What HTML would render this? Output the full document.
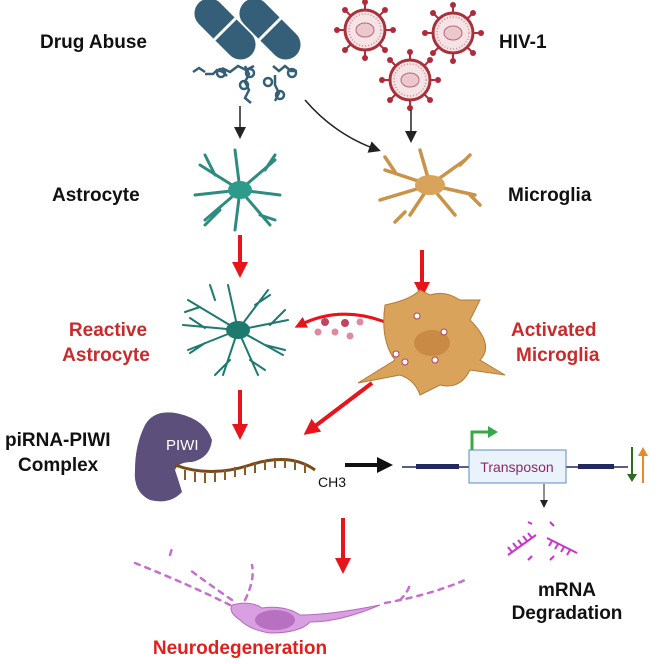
<!DOCTYPE html>
<html><head><meta charset="utf-8"><style>
body{margin:0;background:#fff}
svg{display:block}
text{font-family:"Liberation Sans",sans-serif}
.b{font-weight:bold;font-size:19px;fill:#111}
.r{font-weight:bold;font-size:19px;fill:#c62d2a}
</style></head><body>
<svg width="664" height="664" viewBox="0 0 664 664">
<defs>
<marker id="ak" markerWidth="8" markerHeight="8" refX="6" refY="4" orient="auto"><path d="M0,0L8,4L0,8z" fill="#222"/></marker>
<marker id="ar" markerWidth="4" markerHeight="4" refX="2" refY="2" orient="auto"><path d="M0,0L4,2L0,4z" fill="#e8141b"/></marker>
<marker id="ab" markerWidth="4" markerHeight="4" refX="2" refY="2" orient="auto"><path d="M0,0L4,2L0,4z" fill="#111"/></marker>
<g id="vir">
<g stroke="#b02a3a" stroke-width="2"><path d="M0,-20v-7M0,20v7M-20,0h-7M20,0h7M14,14l5,5M-14,14l-5,5M14,-14l5,-5M-14,-14l-5,-5"/></g>
<g fill="#b02a3a"><circle cx="0" cy="-28" r="3"/><circle cx="0" cy="28" r="3"/><circle cx="-28" cy="0" r="3"/><circle cx="28" cy="0" r="3"/><circle cx="20" cy="20" r="3"/><circle cx="-20" cy="20" r="3"/><circle cx="20" cy="-20" r="3"/><circle cx="-20" cy="-20" r="3"/></g>
<circle r="20" fill="#f6e3e3" stroke="#a8323c" stroke-width="3"/>
<circle r="16" fill="none" stroke="#c98aa8" stroke-width="1.5" stroke-dasharray="1 2"/>
<ellipse rx="9" ry="7" fill="#ecc8cc" stroke="#b06a80"/>
</g>
</defs>
<text class="b" x="40" y="48">Drug Abuse</text>
<text class="b" x="499" y="48">HIV-1</text>
<text class="b" x="52" y="201">Astrocyte</text>
<text class="b" x="508" y="201">Microglia</text>
<text class="r" x="108" y="336" text-anchor="middle">Reactive</text>
<text class="r" x="106" y="361" text-anchor="middle">Astrocyte</text>
<text class="r" x="511" y="336">Activated</text>
<text class="r" x="516" y="361">Microglia</text>
<text class="b" x="5" y="446">piRNA-PIWI</text>
<text class="b" x="18" y="471">Complex</text>
<text class="r" x="240" y="654" text-anchor="middle" style="fill:#e0201c">Neurodegeneration</text>
<text class="b" x="567" y="596" text-anchor="middle">mRNA</text>
<text class="b" x="567" y="619" text-anchor="middle">Degradation</text>
<!-- pills -->
<g fill="#355e78">
<rect x="188" y="14" width="74" height="30" rx="15" transform="rotate(45 225 29)"/>
<rect x="233" y="14" width="74" height="30" rx="15" transform="rotate(45 270 29)"/></g>
<g stroke="#fff" stroke-width="3"><path d="M213,41l24,-24M258,41l24,-24"/></g>
<g stroke="#355e78" stroke-width="2.5" fill="none">
<path d="M193,72l6,-4l6,4M205,74h8l4,-4l6,2l4,4M222,68l8,4l8,-6l8,4l8,-4M245,66l4,8l-4,8l4,8l-4,8l6,5M273,66l6,5l6,-5l6,5M275,75v10l4,8l-4,8M290,71h7"/>
<circle cx="221" cy="73" r="4"/><circle cx="244" cy="85" r="4"/><circle cx="250" cy="73" r="4"/><circle cx="268" cy="82" r="4"/><circle cx="280" cy="95" r="4"/><circle cx="292" cy="73" r="4"/></g>
<!-- viruses -->
<use href="#vir" x="365" y="30"/><use href="#vir" x="453" y="33"/><use href="#vir" x="410" y="80"/>
<!-- black arrows -->
<line x1="240" y1="106" x2="240" y2="136" stroke="#222" stroke-width="1.5" marker-end="url(#ak)"/>
<path d="M305,100Q335,135 378,150" stroke="#222" stroke-width="1.5" fill="none" marker-end="url(#ak)"/>
<line x1="411" y1="110" x2="411" y2="140" stroke="#222" stroke-width="1.5" marker-end="url(#ak)"/>
<!-- astrocyte -->
<g stroke="#2e8b80" stroke-width="3" fill="none" stroke-linecap="round">
<path d="M240,190l-40,-25M240,190l-5,-40M240,190l35,-30M240,190l40,5M240,190l30,35M240,190l-5,40M240,190l-35,30M240,190l-45,5M215,175l-10,-20M265,170l10,-15M260,215l15,5M220,210l-15,15"/></g>
<ellipse cx="240" cy="190" rx="12" ry="9" fill="#2e9b8a"/>
<!-- microglia -->
<g stroke="#c9934a" stroke-width="3.5" fill="none" stroke-linecap="round">
<path d="M430,185l-45,-15M430,185l-10,-35M430,185l35,-25M430,185l45,10M430,185l25,30M430,185l-20,30M430,185l-50,15M395,172l-10,-15M460,165l10,-10M470,195l10,10M405,212l-10,10"/></g>
<ellipse cx="430" cy="185" rx="15" ry="10" fill="#d9a35c"/>
<!-- red arrows -->
<g stroke="#e8141b" stroke-width="4" fill="none">
<line x1="240" y1="235" x2="240" y2="270" marker-end="url(#ar)"/>
<line x1="422" y1="250" x2="422" y2="290" marker-end="url(#ar)"/>
<line x1="240" y1="390" x2="240" y2="432" marker-end="url(#ar)"/>
<line x1="372" y1="383" x2="310" y2="430" marker-end="url(#ar)"/>
<line x1="343" y1="518" x2="343" y2="566" marker-end="url(#ar)"/>
<path d="M385,322Q340,305 300,325" stroke-width="3" marker-end="url(#ar)"/>
</g>
<g fill="#c0455f"><circle cx="345" cy="323" r="4"/><circle cx="335" cy="332" r="3.5" fill="#e08aa0"/><circle cx="350" cy="336" r="3.5" fill="#e08aa0"/><circle cx="325" cy="322" r="4"/><circle cx="318" cy="332" r="3.5" fill="#e08aa0"/><circle cx="360" cy="322" r="3.5" fill="#e08aa0"/></g>
<!-- reactive astrocyte -->
<g stroke="#1e7a6e" stroke-width="2" fill="none" stroke-linecap="round">
<path d="M238,330l-50,-30M238,330l-10,-45M238,330l30,-40M238,330l50,-10M238,330l45,25M238,330l20,45M238,330l-15,45M238,330l-50,20M238,330l-55,-5M200,307l-15,5M215,300l-5,-15M255,305l15,-10M270,325l15,-15M265,345l20,5M250,360l15,10M230,360l-15,15M205,343l-15,10M205,328l-15,-10"/></g>
<ellipse cx="238" cy="330" rx="12" ry="9" fill="#1e7a6e"/>
<!-- activated microglia -->
<path d="M385,305Q410,300 420,290L430,295Q445,290 460,300L480,300L470,320Q495,345 480,360L505,375L470,370Q460,390 440,385L420,395Q415,380 400,375L358,383L395,360Q380,340 385,305z" fill="#d9a35c" stroke="#b47a38" stroke-width="1"/>
<ellipse cx="432" cy="343" rx="18" ry="13" fill="#c98a45"/>
<g fill="#fff" stroke="#b04060" stroke-width="1"><circle cx="417" cy="316" r="3"/><circle cx="444" cy="332" r="3"/><circle cx="396" cy="354" r="3"/><circle cx="405" cy="362" r="3"/><circle cx="435" cy="360" r="3"/></g>
<!-- PIWI -->
<path d="M145,425Q155,408 180,414Q205,420 212,440Q210,458 192,462Q178,462 175,470Q180,485 182,492Q170,505 150,500Q133,492 135,470Q135,445 145,425z" fill="#5c4f7c"/>
<text x="166" y="450" font-size="15" fill="#fff">PIWI</text>
<path d="M175,465Q210,478 250,465T315,470" stroke="#7a4a1a" stroke-width="3" fill="none"/>
<g stroke="#8b5a2b" stroke-width="2"><path d="M185,470v10M195,472v10M205,473v10M215,472v10M225,470v10M235,467v10M245,465v10M255,463v10M265,460v10M275,458v10M285,458v10M295,460v10M305,463v10"/></g>
<text x="318" y="487" font-size="14" fill="#111">CH3</text>
<line x1="345" y1="465" x2="385" y2="465" stroke="#111" stroke-width="4" marker-end="url(#ab)"/>
<!-- transposon -->
<line x1="402" y1="467" x2="628" y2="467" stroke="#222860" stroke-width="1.5"/>
<rect x="416" y="464" width="43" height="5" fill="#222860"/><rect x="578" y="464" width="36" height="5" fill="#222860"/>
<rect x="469" y="450" width="97" height="33" fill="#eaf2fb" stroke="#5b8cc8" stroke-width="1"/>
<text x="517" y="472" font-size="14" fill="#8a2a6a" text-anchor="middle">Transposon</text>
<path d="M472,450v-18h18" stroke="#3aa84a" stroke-width="3" fill="none"/><path d="M488,426l10,6l-10,6z" fill="#3aa84a"/>
<line x1="632" y1="447" x2="632" y2="478" stroke="#2e6b1e" stroke-width="2"/><path d="M627,474h10l-5,8z" fill="#2e6b1e"/>
<line x1="643" y1="483" x2="643" y2="452" stroke="#e88a2a" stroke-width="2"/><path d="M638,456h10l-5,-9z" fill="#e88a2a"/>
<line x1="544" y1="484" x2="544" y2="506" stroke="#222" stroke-width="1" marker-end="url(#ak)"/>
<g stroke="#cc33cc" stroke-width="2" fill="none"><path d="M508,555l28,-20M547,538l30,15M528,522l4,2M550,522l4,4M528,560l4,-4M550,560l4,-4"/>
<path d="M512,552l-4,-5M517,548l-4,-5M522,545l-4,-5M527,541l-4,-5M532,538l-4,-5M552,541l-3,5M558,544l-3,5M564,547l-3,5M570,550l-3,5"/></g>
<!-- neuron -->
<path d="M232,605Q250,600 262,608Q285,605 300,615Q330,615 380,605Q340,622 310,622Q300,633 270,633Q250,630 240,620Q228,612 232,605z" fill="#d8a0e0" stroke="#b868c0" stroke-width="1"/>
<ellipse cx="275" cy="620" rx="20" ry="10" fill="#b870c0"/>
<g stroke="#c470cc" stroke-width="2.5" stroke-dasharray="5 6" fill="none" stroke-linecap="round"><path d="M230,605Q190,585 135,563M232,600Q210,585 190,570M245,600Q255,580 252,565M170,555l3,-10M385,603Q430,595 465,580M400,600Q410,590 410,582"/></g>
</svg>
</body></html>
